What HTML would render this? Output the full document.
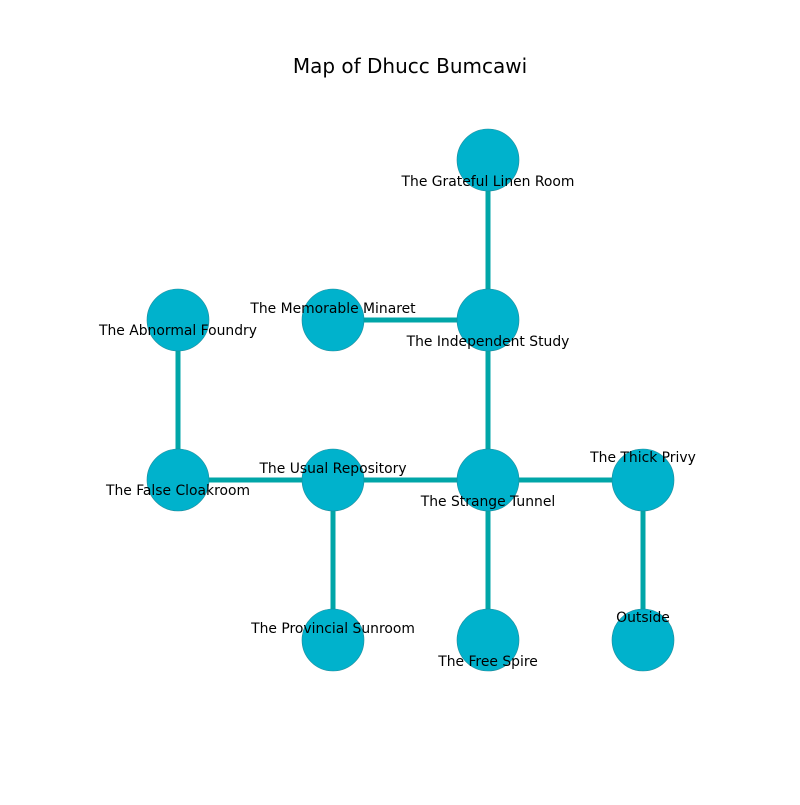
<!DOCTYPE html>
<html><head><meta charset="utf-8"><style>body{margin:0;background:#fff}</style></head><body>
<svg width="800" height="800" xmlns="http://www.w3.org/2000/svg" font-family="DejaVu Sans, sans-serif">
<rect width="800" height="800" fill="#fff"/>
<text x="410" y="73" font-size="20" text-anchor="middle">Map of Dhucc Bumcawi</text>
<g stroke="#00a6a8" stroke-width="5">
<line x1="488" y1="160" x2="488" y2="640"/>
<line x1="333" y1="320" x2="488" y2="320"/>
<line x1="178" y1="320" x2="178" y2="480"/>
<line x1="178" y1="480" x2="643" y2="480"/>
<line x1="333" y1="480" x2="333" y2="640"/>
<line x1="643" y1="480" x2="643" y2="640"/>
</g>
<g fill="#00b2cc" stroke="#1a8a9a" stroke-width="0.6">
<circle cx="488" cy="160" r="31"/>
<circle cx="333" cy="320" r="31"/>
<circle cx="488" cy="320" r="31"/>
<circle cx="178" cy="320" r="31"/>
<circle cx="178" cy="480" r="31"/>
<circle cx="333" cy="480" r="31"/>
<circle cx="488" cy="480" r="31"/>
<circle cx="643" cy="480" r="31"/>
<circle cx="333" cy="640" r="31"/>
<circle cx="488" cy="640" r="31"/>
<circle cx="643" cy="640" r="31"/>
</g>
<g font-size="13.9" text-anchor="middle" fill="#000">
<text x="488" y="186">The Grateful Linen Room</text>
<text x="333" y="313">The Memorable Minaret</text>
<text x="488" y="346">The Independent Study</text>
<text x="178" y="335">The Abnormal Foundry</text>
<text x="178" y="495">The False Cloakroom</text>
<text x="333" y="473">The Usual Repository</text>
<text x="488" y="506">The Strange Tunnel</text>
<text x="643" y="462">The Thick Privy</text>
<text x="333" y="633">The Provincial Sunroom</text>
<text x="488" y="666">The Free Spire</text>
<text x="643" y="622">Outside</text>
</g>
</svg>
</body></html>
